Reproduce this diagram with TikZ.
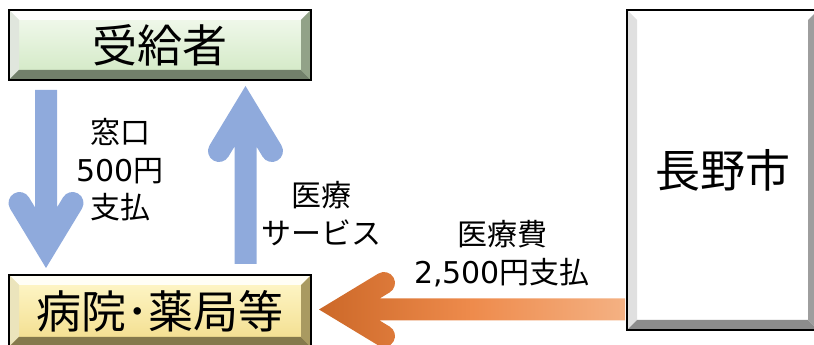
\documentclass[tikz,border=0pt]{standalone}
\usepackage{fontspec}
\setmainfont{Noto Sans CJK JP}
\newfontfamily\numfont{DejaVu Sans}
\usetikzlibrary{calc}

\definecolor{arrblue}{RGB}{143,170,220}
\definecolor{orDark}{RGB}{204,104,40}
\definecolor{orMid}{RGB}{238,139,76}
\definecolor{orLight}{RGB}{244,177,131}
\definecolor{grTop}{RGB}{244,250,240}
\definecolor{grBot}{RGB}{208,232,194}
\definecolor{ylTop}{RGB}{255,248,204}
\definecolor{ylBot}{RGB}{242,220,138}

% bevelled edge of a box node: top, left, bottom and right strips
\newcommand\bevel[5]{%
  \fill[#2] (#1.north west) -- (#1.north east) -- ($(#1.north east)+(-10,-10)$) -- ($(#1.north west)+(10,-10)$) -- cycle;
  \fill[#3] (#1.north west) -- ($(#1.north west)+(10,-10)$) -- ($(#1.south west)+(10,10)$) -- (#1.south west) -- cycle;
  \fill[#4] (#1.south west) -- ($(#1.south west)+(10,10)$) -- ($(#1.south east)+(-10,10)$) -- (#1.south east) -- cycle;
  \fill[#5] (#1.north east) -- (#1.south east) -- ($(#1.south east)+(-10,10)$) -- ($(#1.north east)+(-10,-10)$) -- cycle;
  \draw[line width=2pt] (#1.north west) rectangle (#1.south east);}

% block arrow with round barbs from tail #2 to tip #3
\newcommand\blockarrow[3]{%
  \path (#2); \pgfgetlastxy\tailx\taily
  \path (#3); \pgfgetlastxy\tipx\tipy
  \pgfmathsetmacro\arrlen{veclen(\tailx-\tipx,\taily-\tipy)}
  \pgfmathsetmacro\arrang{atan2(\taily-\tipy,\tailx-\tipx)}
  \begin{scope}[shift={(#3)},rotate=\arrang]
    \path[#1] (0pt,0pt) -- (59.3pt,35.9pt)
      arc[start angle=121.2,end angle=-58.8,radius=11pt]
      -- (60.6pt,11pt) -- (\arrlen pt,11pt) -- (\arrlen pt,-11pt)
      -- (60.6pt,-11pt) -- (70.7pt,-17.1pt)
      arc[start angle=58.8,end angle=-121.2,radius=11pt] -- cycle;
  \end{scope}}

\begin{document}
\begin{tikzpicture}[x=1pt,y=1pt,
    box/.style={draw,line width=2pt,outer sep=0pt,inner sep=0pt,font=\fontsize{45}{54}\selectfont},
    lbl/.style={align=center,inner sep=0pt,font=\fontsize{30}{37.5}\selectfont},
    bluearrow/.style={fill=arrblue},
    cashflow/.style={left color=orDark,right color=orLight,middle color=orMid}
  ]
  \path[use as bounding box,clip] (0,0) rectangle (814,345);

  % the three parties
  \node[box,minimum width=302pt,minimum height=70pt,top color=grTop,bottom color=grBot] (recv) at (160,300) {受給者};
  \node[box,minimum width=302pt,minimum height=72pt,top color=ylTop,bottom color=ylBot] (hosp) at (160,34) {病院･薬局等};
  \node[box,minimum width=191pt,minimum height=320pt,fill=white] (city) at (722.5,175) {長野市};

  % the arrows
  \coordinate (payTail) at ($(recv.south west)+(37,-10)$);
  \coordinate (payTip) at ($(hosp.north west)+(37,7)$);
  \coordinate (careTail) at ($(hosp.north west)+(236.5,11)$);
  \coordinate (careTip) at ($(recv.south west)+(236.5,-6)$);
  \coordinate (cashTip) at ($(hosp.east)+(8,1.5)$);
  \coordinate (cashTail) at ($(city.west |- cashTip)+(-2,0)$);
  \blockarrow{bluearrow}{payTail}{payTip}
  \blockarrow{bluearrow}{careTail}{careTip}
  \blockarrow{cashflow}{cashTail}{cashTip}

  % the labels
  \node[lbl] (payLbl) at (120,175) {窓口\\{\numfont 500}円\\支払};
  \node[lbl] (careLbl) at (321,131.5) {医療\\サービス};
  \node[lbl] (feeLbl) at (502,91.5) {医療費\\{\numfont 2,500}円支払};

  % the bevels
  \bevel{recv}{white!90!grTop}{black!8!grTop}{black!45!grBot}{black!30!grBot}
  \bevel{hosp}{white!80!ylTop}{black!8!ylTop}{black!45!ylBot}{black!30!ylBot}
  \bevel{city}{white}{black!12}{black!45}{black!38}
\end{tikzpicture}
\end{document}
